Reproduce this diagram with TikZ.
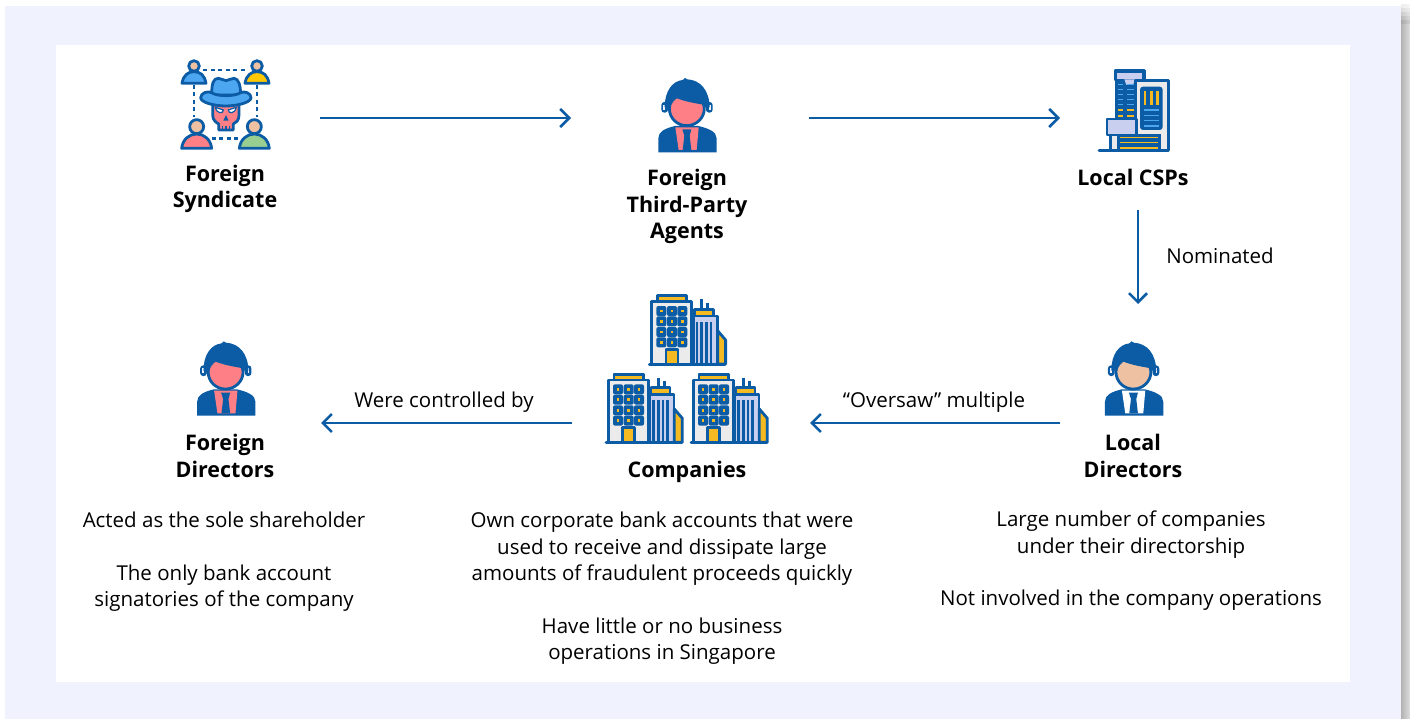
\documentclass[tikz,border=0pt]{standalone}
\usepackage{fontspec}
\setmainfont{Open Sans}
\usetikzlibrary{arrows.meta}
\definecolor{ibm}{HTML}{0B5CA5}
\definecolor{panel}{HTML}{F0F3FD}
\definecolor{pinkf}{HTML}{FF7F87}
\definecolor{skinf}{HTML}{EFC1A3}
\definecolor{ygold}{HTML}{F5B921}
\definecolor{lav}{HTML}{C9CFEE}
\definecolor{lgrey}{HTML}{EBEBEB}
\definecolor{skyb}{HTML}{4DA6F0}
\definecolor{grn}{HTML}{98CF90}
\definecolor{yel}{HTML}{FFC800}
\tikzset{
  x=1pt,y=-1pt,
  slot/.style={inner sep=0pt,outer sep=0pt},
  flow/.style={draw=ibm,line width=2.5pt,-{Straight Barb[length=9pt,width=18pt,line width=2.5pt]}},
  title/.style={inner sep=0pt,align=center,font=\fontsize{21.5}{26.4}\selectfont\bfseries,text=black},
  body/.style={inner sep=0pt,align=center,font=\fontsize{20.5}{26.4}\selectfont,text=black},
  ink/.style={draw=ibm,line width=2.8pt,line join=round},
  zoomed/.style={x=0.3333pt,y=-0.3333pt},
  pics/person/.style args={#1/#2}{code={
    \fill[ibm] (55,247) -- (55,205) .. controls (55,185) and (75,175) .. (105,168) -- (175,168) .. controls (205,175) and (230,185) .. (230,205) -- (230,247) -- cycle;
    \fill[#2] (106,172) -- (116,240) -- (170,240) -- (176,172) -- cycle;
    \fill[ibm] (127,178) -- (154,178) -- (149,197) -- (154,240) -- (128,240) -- (133,197) -- cycle;
    \fill[ibm,rounded corners=3pt] (64,96) rectangle (84,128);
    \fill[ibm,rounded corners=3pt] (198,96) rectangle (218,128);
    \fill[panel] (70,104) rectangle (75,120);
    \fill[panel] (207,104) rectangle (212,120);
    \fill[ibm] (74,112) .. controls (74,62) and (98,33) .. (128,30) -- (135,24) -- (142,28) .. controls (182,30) and (208,62) .. (209,112) -- cycle;
    \filldraw[fill=#1,ink] (88,115) .. controls (88,100) and (98,88) .. (110,80) .. controls (140,92) and (165,95) .. (190,100) .. controls (192,105) and (193,110) .. (193,115) .. controls (193,145) and (168,167) .. (140,167) .. controls (112,167) and (88,145) .. (88,115) -- cycle;
  }},
  pics/tower/.style={code={
    \draw[ink,line cap=round,line width=3pt] (33,472) -- (260,472);
    \filldraw[fill=lgrey,ink] (40,285) rectangle (160,472);
    \filldraw[fill=ygold,ink] (57,267) rectangle (145,285);
    \fill[ibm] (57,267) rectangle (145,272);
    \foreach \yy in {313,344,376,407}{\foreach \xx in {69,101,132}{
      \fill[ibm,rounded corners=2pt] (\xx-15,\yy-15) rectangle (\xx+15,\yy+15);
      \fill[ygold] (\xx-4,\yy-4) rectangle (\xx+4,\yy+4);}}
    \filldraw[fill=ygold,ink] (83,428) rectangle (119,472);
    \draw[ink] (190,278) -- (190,308) (208,288) -- (208,308);
    \filldraw[fill=ygold,ink] (168,308) rectangle (225,328);
    \filldraw[fill=lav,ink] (165,328) rectangle (237,472);
    \foreach \xx in {176,190,204,218}{\fill[ibm] (\xx-4,346) rectangle (\xx+4,470);}
    \filldraw[fill=ygold,ink] (238,372) -- (262,400) -- (262,472) -- (238,472) -- cycle;
  }}
}
\begin{document}
\begin{tikzpicture}
\useasboundingbox (0,0) rectangle (1410,719);
\fill[white] (0,0) rectangle (1410,719);
\foreach \n/\p in {0/4,1/8,2/12,3/16,4/20}{
  \pgfmathsetmacro{\ya}{5+4*\n}
  \pgfmathsetmacro{\yb}{9+4*\n}
  \pgfmathsetmacro{\pl}{\p*1.7}
  \pgfmathsetmacro{\pr}{\p*0.9}
  \shade[left color=black!\pl,right color=black!\pr] (1401,\ya) rectangle (1410,\yb);
}
\shade[left color=black!30,right color=black!13] (1401,25) rectangle (1410,719);
\fill[panel] (5,6) rectangle (1401,719);
\fill[white] (56,45) rectangle (1350,682);

% invisible slots for connectors
\node[slot,minimum width=190pt,minimum height=90pt] (syndicate) at (225,118) {};
\node[slot,minimum width=238pt,minimum height=90pt] (agents) at (690,118) {};
\node[slot,minimum width=156pt,minimum height=184pt] (csps) at (1138,118) {};
\node[slot,minimum width=156pt,minimum height=238pt] (localdir) at (1138,423) {};
\node[slot,minimum width=238pt,minimum height=90pt] (companies) at (691,423) {};
\node[slot,minimum width=192pt,minimum height=90pt] (foreigndir) at (225,423) {};

\draw[flow] (syndicate.east) -- (agents.west);
\draw[flow] (agents.east) -- (csps.west);
\draw[flow] (csps.south) -- (localdir.north);
\draw[flow] (localdir.west) -- (companies.east);
\draw[flow] (companies.west) -- (foreigndir.east);

% persons
\begin{scope}[shift={(640,70)},zoomed] \pic {person={pinkf/pinkf}}; \end{scope}
\begin{scope}[shift={(1086.6,333.4)},zoomed] \pic {person={skinf/white}}; \end{scope}
\begin{scope}[shift={(178.8,333.4)},zoomed] \pic {person={pinkf/pinkf}}; \end{scope}

% syndicate icon
\begin{scope}[shift={(170,50)},zoomed]
  \draw[ibm,line width=2.5pt,dash pattern=on 4pt off 3.5pt] (100,60) -- (235,60) (72,105) -- (72,200) (261,105) -- (261,200) (125,265) -- (210,265);
  \filldraw[fill=skinf,ink] (72,48) circle[radius=16];
  \filldraw[fill=skyb,ink] (36,100) .. controls (40,75) and (55,65) .. (72,65) .. controls (90,65) and (104,75) .. (108,100) -- cycle;
  \filldraw[fill=skinf,ink] (261,48) circle[radius=16];
  \filldraw[fill=yel,ink] (225,100) .. controls (229,75) and (244,65) .. (261,65) .. controls (279,65) and (293,75) .. (297,100) -- cycle;
  \filldraw[fill=skinf,ink] (80,230) circle[radius=21];
  \filldraw[fill=pinkf,ink] (35,295) .. controls (38,268) and (58,252) .. (80,252) .. controls (102,252) and (122,268) .. (125,295) -- cycle;
  \filldraw[fill=skinf,ink] (253,230) circle[radius=21];
  \filldraw[fill=grn,ink] (208,295) .. controls (211,268) and (231,252) .. (253,252) .. controls (275,252) and (295,268) .. (298,295) -- cycle;
  % skull
  \filldraw[fill=pinkf,ink] (128,160) -- (128,195) .. controls (128,212) and (140,218) .. (146,222) -- (146,240) -- (190,240) -- (190,222) .. controls (198,218) and (207,212) .. (207,195) -- (207,160) -- cycle;
  \filldraw[fill=white,draw=ibm,line width=1.2pt] (136,172) -- (160,180) .. controls (160,192) and (140,192) .. (136,172) -- cycle;
  \filldraw[fill=white,draw=ibm,line width=1.2pt] (199,172) -- (175,180) .. controls (175,192) and (195,192) .. (199,172) -- cycle;
  \fill[ibm] (168,195) -- (176,212) -- (160,212) -- cycle;
  \draw[ibm,line width=1.2pt] (158,228) -- (158,240) (168,228) -- (168,240) (178,228) -- (178,240);
  % hat
  \filldraw[fill=skyb,ink] (125,135) .. controls (125,100) and (130,85) .. (145,85) .. controls (155,85) and (160,92) .. (168,92) .. controls (175,92) and (182,85) .. (192,85) .. controls (205,85) and (212,105) .. (212,135) -- cycle;
  \filldraw[fill=skyb,ink] (92,143) .. controls (92,128) and (115,122) .. (125,128) .. controls (140,140) and (195,140) .. (212,128) .. controls (225,122) and (243,130) .. (243,143) .. controls (243,158) and (200,168) .. (167,168) .. controls (135,168) and (92,158) .. (92,143) -- cycle;
\end{scope}

% CSP icon
\begin{scope}[shift={(1085,60)},zoomed]
  \filldraw[fill=ibm,ink] (90,32) rectangle (178,60);
  \fill[ibm] (90,60) rectangle (152,178);
  \fill[lav] (97,40) rectangle (172,58);
  \fill[lav] (118,58) -- (150,58) -- (144,75) -- (124,75) -- cycle;
  \foreach \yy in {73,88,103,118,134}{
    \fill[skyb] (100,\yy-2) rectangle (115,\yy+2);
    \fill[skyb] (125,\yy-2) rectangle (146,\yy+2);}
  \foreach \yy in {151,169}{
    \fill[ygold] (100,\yy-3) rectangle (115,\yy+3);
    \fill[ygold] (125,\yy-3) rectangle (146,\yy+3);}
  \filldraw[fill=lgrey,ink] (152,62) rectangle (250,270);
  \fill[ibm,rounded corners=3pt] (165,80) rectangle (233,210);
  \foreach \xx in {180,200,218}{\fill[ygold] (\xx-4,92) rectangle (\xx+4,136);}
  \foreach \yy in {150,166,182,198}{\fill[skyb] (177,\yy-2) rectangle (222,\yy+2);}
  \fill[lgrey] (76,222) rectangle (100,270);
  \fill[ibm] (95,222) rectangle (228,270);
  \foreach \yy in {233,248,264}{\fill[ygold] (105,\yy-2) rectangle (218,\yy+2);}
  \fill[ibm] (72,222) rectangle (82,270);
  \filldraw[fill=lav,ink] (66,177) rectangle (155,225);
  \draw[ink,line cap=round,line width=2.8pt] (42,271) -- (250,271);
\end{scope}

% companies icon
\begin{scope}[shift={(595,285)},zoomed] \pic {tower}; \end{scope}
\begin{scope}[shift={(680,285)},zoomed] \pic {tower}; \end{scope}
\begin{scope}[shift={(638.3,206.7)},zoomed] \pic {tower}; \end{scope}

% labels
\node[title] (t1) at (225,189) {Foreign\\Syndicate};
\node[title] (t2) at (687,206.5) {Foreign\\Third-Party\\Agents};
\node[title] (t3) at (1133,177) {Local CSPs};
\node[title] (t4) at (225,456) {Foreign\\Directors};
\node[title] (t5) at (687,472) {Companies};
\node[title] (t6) at (1133,456) {Local\\Directors};
\node[body] (l1) at (1220,256) {Nominated};
\node[body] (l2) at (444,402) {Were controlled by};
\node[body] (l3) at (934,402) {“Oversaw” multiple};
\node[body] (d1) at (224,561.5) {Acted as the sole shareholder\\[26.4pt]The only bank account\\signatories of the company};
\node[body] (d2) at (662,588.5) {Own corporate bank accounts that were\\used to receive and dissipate large\\amounts of fraudulent proceeds quickly\\[26.4pt]Have little or no business\\operations in Singapore};
\node[body] (d3) at (1131,561) {Large number of companies\\under their directorship\\[26.4pt]Not involved in the company operations};
\end{tikzpicture}
\end{document}
